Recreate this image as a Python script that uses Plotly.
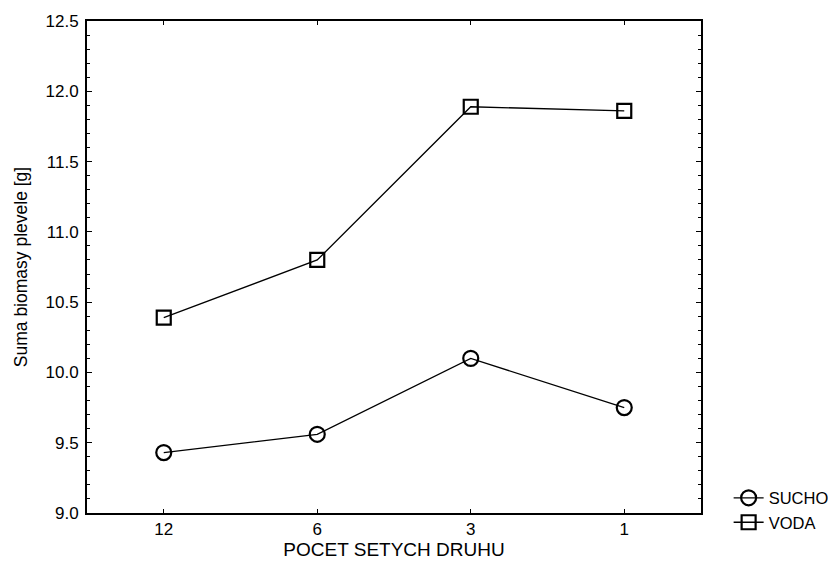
import plotly.graph_objects as go

categories = ["12", "6", "3", "1"]
sucho = [9.43, 9.56, 10.10, 9.75]
voda = [10.39, 10.80, 11.89, 11.86]

fig = go.Figure()
fig.add_trace(go.Scatter(
    x=categories, y=sucho, name="SUCHO", mode="lines+markers",
    line=dict(color="black", width=1.3),
    marker=dict(symbol="circle-open", size=15, color="black", line=dict(width=2.2)),
))
fig.add_trace(go.Scatter(
    x=categories, y=voda, name="VODA", mode="lines+markers",
    line=dict(color="black", width=1.3),
    marker=dict(symbol="square-open", size=14, color="black", line=dict(width=2.2)),
))

font = "Liberation Sans, Arial, sans-serif"
fig.update_layout(
    width=836, height=573,
    margin=dict(l=79, r=143, t=13, b=68, autoexpand=False),
    paper_bgcolor="white", plot_bgcolor="white",
    font=dict(family=font, color="black", size=17),
    showlegend=True,
    legend=dict(x=1.045, y=-0.054, xanchor="left", yanchor="bottom",
                font=dict(size=16.5), bgcolor="rgba(0,0,0,0)", tracegroupgap=0,
                itemwidth=30),
)
fig.update_xaxes(
    type="category", range=[-0.5, 3.5], automargin=False,
    showline=True, linecolor="black", linewidth=2, mirror="ticks",
    ticks="inside", ticklen=4, tickcolor="black", showgrid=False,
    tickfont=dict(size=17),
    title=dict(text="POCET SETYCH DRUHU", font=dict(size=19), standoff=4),
)
fig.update_yaxes(
    range=[9.0, 12.5], dtick=0.5, tickformat=".1f", automargin=False,
    showline=True, linecolor="black", linewidth=2, mirror="ticks",
    ticks="inside", ticklen=5, tickcolor="black", showgrid=False, zeroline=False,
    tickfont=dict(size=17), ticklabelstandoff=3,
    minor=dict(dtick=0.1, ticks="inside", ticklen=3, tickcolor="black", showgrid=False),
    title=dict(text="Suma biomasy plevele [g]", font=dict(size=17.5), standoff=13),
)
fig.write_html("out.html")
